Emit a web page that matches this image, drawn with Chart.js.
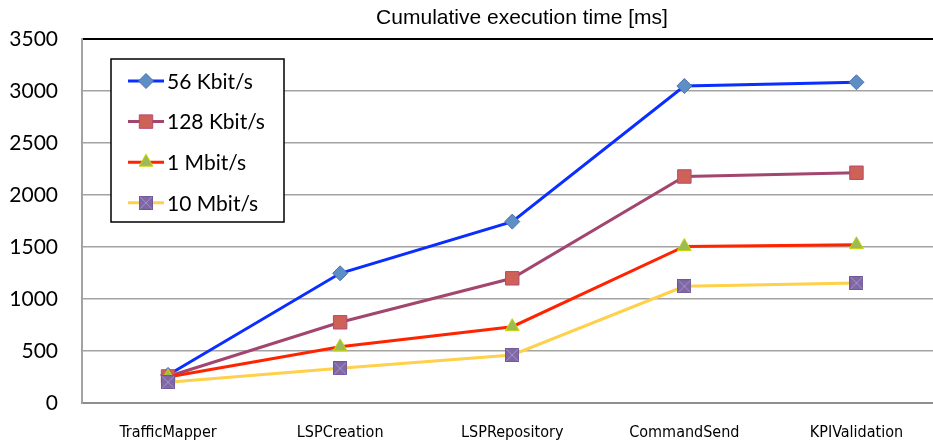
<!DOCTYPE html>
<html>
<head>
<meta charset="utf-8">
<script src="https://cdn.jsdelivr.net/npm/chart.js@4/dist/chart.umd.min.js"></script>
<style>
  html, body { margin: 0; padding: 0; background: #fff; overflow: hidden; }
  #wrap { width: 933px; height: 443px; overflow: hidden; }
</style>
</head>
<body>
<div id="wrap"><canvas id="chart" width="953" height="443"></canvas></div>
<script>
// ── Dati ──────────────────────────────────────
const chartTitle = 'Cumulative execution time [ms]';
const steps      = ['TrafficMapper', 'LSPCreation', 'LSPRepository', 'CommandSend', 'KPIValidation'];
const seriesNames = ['56 Kbit/s', '128 Kbit/s', '1 Mbit/s', '10 Mbit/s'];
const kbit56   = [270, 1247, 1744, 3048, 3084];
const kbit128  = [255, 776, 1199, 2178, 2214];
const mbit1    = [250, 540, 734, 1505, 1522];
const mbit10   = [200, 333, 462, 1122, 1154];
const yTicks   = [0, 500, 1000, 1500, 2000, 2500, 3000, 3500];

// ── Marker quadrato con X (10 Mbit/s) ─────────
function crossBox(size) {
    const c = document.createElement('canvas');
    c.width = size; c.height = size;
    const g = c.getContext('2d');
    g.fillStyle = '#8068a6';
    g.fillRect(0, 0, size, size);
    g.strokeStyle = '#6f5a98';
    g.lineWidth = 1;
    g.strokeRect(0.5, 0.5, size - 1, size - 1);
    g.strokeStyle = '#a493c4';
    g.beginPath();
    g.moveTo(1, 1); g.lineTo(size - 1, size - 1);
    g.moveTo(size - 1, 1); g.lineTo(1, size - 1);
    g.stroke();
    return c;
}
const crossMarker = crossBox(14);

const serie = [
    { data: kbit56,  line: '#0a2eff', fill: '#5e8ec6', edge: '#4f70a8', style: 'rectRot',  r: 7.5, order: 4 },
    { data: kbit128, line: '#a3466f', fill: '#cf6257', edge: '#b24a78', style: 'rect',     r: 9.5, order: 3 },
    { data: mbit1,   line: '#ff2400', fill: '#9bbb59', edge: '#c8d800', style: 'triangle', r: 8,   order: 2 },
    { data: mbit10,  line: '#ffd04a', fill: '#8068a6', edge: '#6f5a98', style: crossMarker, r: 7,  order: 1 }
];

// ── Titolo ────────────────────────────────────
const titlePlugin = {
    id: 'titleText',
    afterDraw(chart) {
        const ctx = chart.ctx;
        ctx.save();
        ctx.fillStyle = '#000';
        ctx.font = '21px "Liberation Sans", Arial, sans-serif';
        ctx.textAlign = 'center';
        ctx.textBaseline = 'middle';
        ctx.fillText(chartTitle, 522, 18);
        ctx.restore();
    }
};

// ── Legenda con riquadro ──────────────────────
const boxLegend = {
    id: 'boxLegend',
    afterDraw(chart) {
        const ctx = chart.ctx;
        ctx.save();
        ctx.fillStyle = '#fff';
        ctx.fillRect(111, 59, 173, 163);
        ctx.strokeStyle = '#000';
        ctx.lineWidth = 1.5;
        ctx.strokeRect(111, 59, 173, 163);
        chart.data.datasets.forEach((ds, i) => {
            const y = 81 + i * 40.6;
            ctx.strokeStyle = ds.borderColor;
            ctx.lineWidth = 3;
            ctx.beginPath();
            ctx.moveTo(128, y); ctx.lineTo(164, y);
            ctx.stroke();
            ctx.fillStyle = ds.pointBackgroundColor;
            ctx.strokeStyle = ds.pointBorderColor;
            ctx.lineWidth = 1;
            Chart.helpers.drawPoint(ctx, { pointStyle: ds.pointStyle, rotation: 0, radius: ds.pointRadius, borderWidth: 1 }, 146, y);
            ctx.fillStyle = '#000';
            ctx.font = '21px Lato, "Open Sans", sans-serif';
            ctx.textAlign = 'left';
            ctx.textBaseline = 'middle';
            ctx.fillText(ds.label, 167, y + 1);
        });
        ctx.restore();
    }
};

new Chart(document.getElementById('chart'), {
    type: 'line',
    data: {
        labels: steps,
        datasets: serie.map((s, i) => ({
            label: seriesNames[i],
            data: s.data,
            borderColor: s.line,
            borderWidth: 3,
            pointStyle: s.style,
            pointRadius: s.r,
            pointHoverRadius: s.r,
            pointBackgroundColor: s.fill,
            pointBorderColor: s.edge,
            pointBorderWidth: 1,
            tension: 0,
            fill: false,
            order: s.order
        }))
    },
    options: {
        responsive: false,
        animation: false,
        devicePixelRatio: 1,
        layout: { padding: { top: 39, right: 3, left: 0, bottom: 0 } },
        plugins: { legend: { display: false }, title: { display: false }, tooltip: { enabled: false } },
        scales: {
            x: {
                offset: true,
                grid: { display: false, drawTicks: false },
                border: { display: true, color: '#8f8f8f', width: 2 },
                ticks: {
                    padding: 20,
                    maxRotation: 0,
                    color: '#000',
                    font: { family: '"Liberation Sans Narrow", "DejaVu Sans Condensed", sans-serif', size: 16 }
                },
                afterFit(scale) { scale.height = 40; }
            },
            y: {
                min: 0,
                max: 3500,
                afterBuildTicks(scale) { scale.ticks = yTicks.map(v => ({ value: v })); },
                grid: {
                    drawTicks: false,
                    color: ctx => ctx.tick && ctx.tick.value === 3500 ? '#000' : '#a3a3a3',
                    lineWidth: ctx => ctx.tick && ctx.tick.value === 3500 ? 2 : 1.5
                },
                border: { display: true, color: '#a3a3a3', width: 2 },
                ticks: {
                    padding: 24,
                    color: '#000',
                    font: { family: 'Lato, "Open Sans", sans-serif', size: 21 },
                    callback: v => String(v)
                },
                afterFit(scale) { scale.width = 82; }
            }
        }
    },
    plugins: [titlePlugin, boxLegend]
});
</script>
</body>
</html>
